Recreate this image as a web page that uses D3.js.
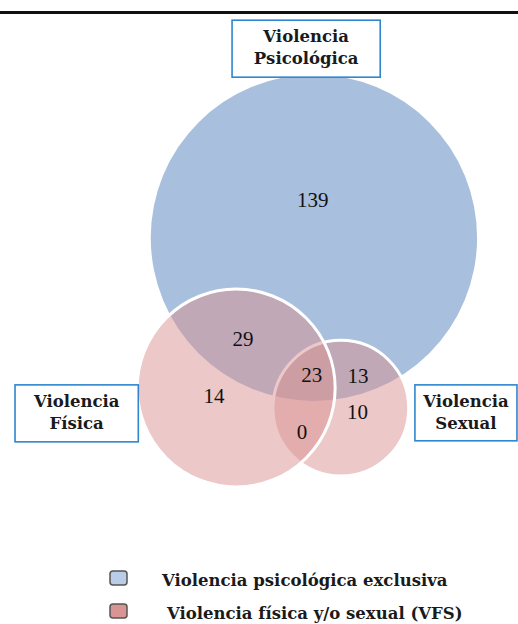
<!DOCTYPE html>
<html>
<head>
<meta charset="utf-8">
<script src="https://cdn.jsdelivr.net/npm/d3@7"></script>
<style>
  html, body { margin: 0; padding: 0; background: #fff; }
  svg { display: block; }
</style>
</head>
<body>
<svg class="venn" width="518" height="624"></svg>
<script>
// data
let setNames = ['Violencia Psicológica', 'Violencia Física', 'Violencia Sexual'];
let setLabels = [['Violencia', 'Psicológica'], ['Violencia', 'Física'], ['Violencia', 'Sexual']];
let regionKeys = ['P', 'PF', 'F', 'PFS', 'PS', 'S', 'FS'];
let regionCounts = [139, 29, 14, 23, 13, 10, 0];
let legendLabels = ['Violencia psicológica  exclusiva', 'Violencia física y/o sexual (VFS)'];
let legendColors = ['#b9cde6', '#d99594'];

// layout (unit space, 0..100 wide) - circles, region label spots, label boxes
let circleLayout = [
  {cx: 60.6, cy: 45.9, r: 31.5, fill: '#a8bfdd', op: 1},    // psicologica
  {cx: 45.6, cy: 74.9, r: 19.1, fill: '#d99191', op: 0.5},  // fisica
  {cx: 65.8, cy: 78.8, r: 13.1, fill: '#d99191', op: 0.5}   // sexual
];
let regionSpots = [[60.4, 38.6], [46.9, 65.4], [41.3, 76.4], [60.2, 72.4], [69.1, 72.6], [69.0, 79.5], [58.3, 83.4]];
let boxLayout = [
  {x: 44.8, y: 3.9, w: 28.6, h: 11.0},
  {x: 2.9, y: 74.3, w: 23.8, h: 11.0},
  {x: 80.1, y: 74.3, w: 19.7, h: 10.8}
];

let width = 518, height = 624;
let svg = d3.select('svg.venn');

// same scale for both axes so circles stay round
let sx = d3.scaleLinear().domain([0, 100]).range([0, width]);
let sy = d3.scaleLinear().domain([0, 100]).range([0, width]);
let sr = d3.scaleLinear().domain([0, 100]).range([0, width]);

// thick rule at the top of the page
svg.append('rect')
  .attr('x', 0).attr('y', 11)
  .attr('width', width).attr('height', 3)
  .style('fill', '#111');

// draw order: blue, then sexual, then fisica on top
let drawOrder = [0, 2, 1];
svg.append('g')
  .selectAll('circle')
  .data(drawOrder)
  .enter()
  .append('circle')
  .attr('cx', i => sx(circleLayout[i].cx))
  .attr('cy', i => sy(circleLayout[i].cy))
  .attr('r', i => sr(circleLayout[i].r))
  .style('fill', i => circleLayout[i].fill)
  .style('fill-opacity', i => circleLayout[i].op)
  .style('stroke', i => i == 0 ? 'none' : '#fff')
  .style('stroke-width', 3);

// counts
svg.append('g')
  .selectAll('text')
  .data(regionCounts)
  .enter()
  .append('text')
  .attr('x', (d, i) => sx(regionSpots[i][0]))
  .attr('y', (d, i) => sy(regionSpots[i][1]))
  .attr('text-anchor', 'middle')
  .attr('dominant-baseline', 'central')
  .style('font-family', '"Liberation Serif", serif')
  .style('font-size', '21px')
  .style('fill', '#111')
  .text(d => d);

// set label boxes
let boxes = svg.append('g')
  .selectAll('g')
  .data(setNames)
  .enter()
  .append('g')
  .attr('transform', (d, i) => `translate(${sx(boxLayout[i].x)},${sy(boxLayout[i].y)})`);

boxes.append('rect')
  .attr('width', (d, i) => sr(boxLayout[i].w))
  .attr('height', (d, i) => sr(boxLayout[i].h))
  .style('fill', '#fff')
  .style('stroke', '#2f86cf')
  .style('stroke-width', 1.6);

boxes.each(function(d, i) {
  let g = d3.select(this);
  let w = sr(boxLayout[i].w);
  g.selectAll('text')
    .data(setLabels[i])
    .enter()
    .append('text')
    .attr('x', w / 2)
    .attr('y', (t, j) => 22 + j * 22)
    .attr('text-anchor', 'middle')
    .style('font-family', '"DejaVu Serif", serif')
    .style('font-weight', 'bold')
    .style('font-size', '16.5px')
    .style('fill', '#1a1a1a')
    .text(t => t);
});

// legend (second row nudged up a little so its descenders stay on the page)
let legend = svg.append('g')
  .selectAll('g')
  .data(legendLabels)
  .enter()
  .append('g')
  .attr('transform', (d, i) => `translate(110,${571 + i * 33})`);

legend.append('rect')
  .attr('width', 17).attr('height', 14)
  .attr('rx', 3)
  .style('fill', (d, i) => legendColors[i])
  .style('stroke', '#555')
  .style('stroke-width', 1.5);

legend.append('text')
  .attr('x', (d, i) => i == 0 ? 52 : 57)
  .attr('y', 15)
  .style('font-family', '"DejaVu Serif", serif')
  .style('font-weight', 'bold')
  .style('font-size', '16.5px')
  .style('fill', '#1a1a1a')
  .text(d => d);
</script>
</body>
</html>
